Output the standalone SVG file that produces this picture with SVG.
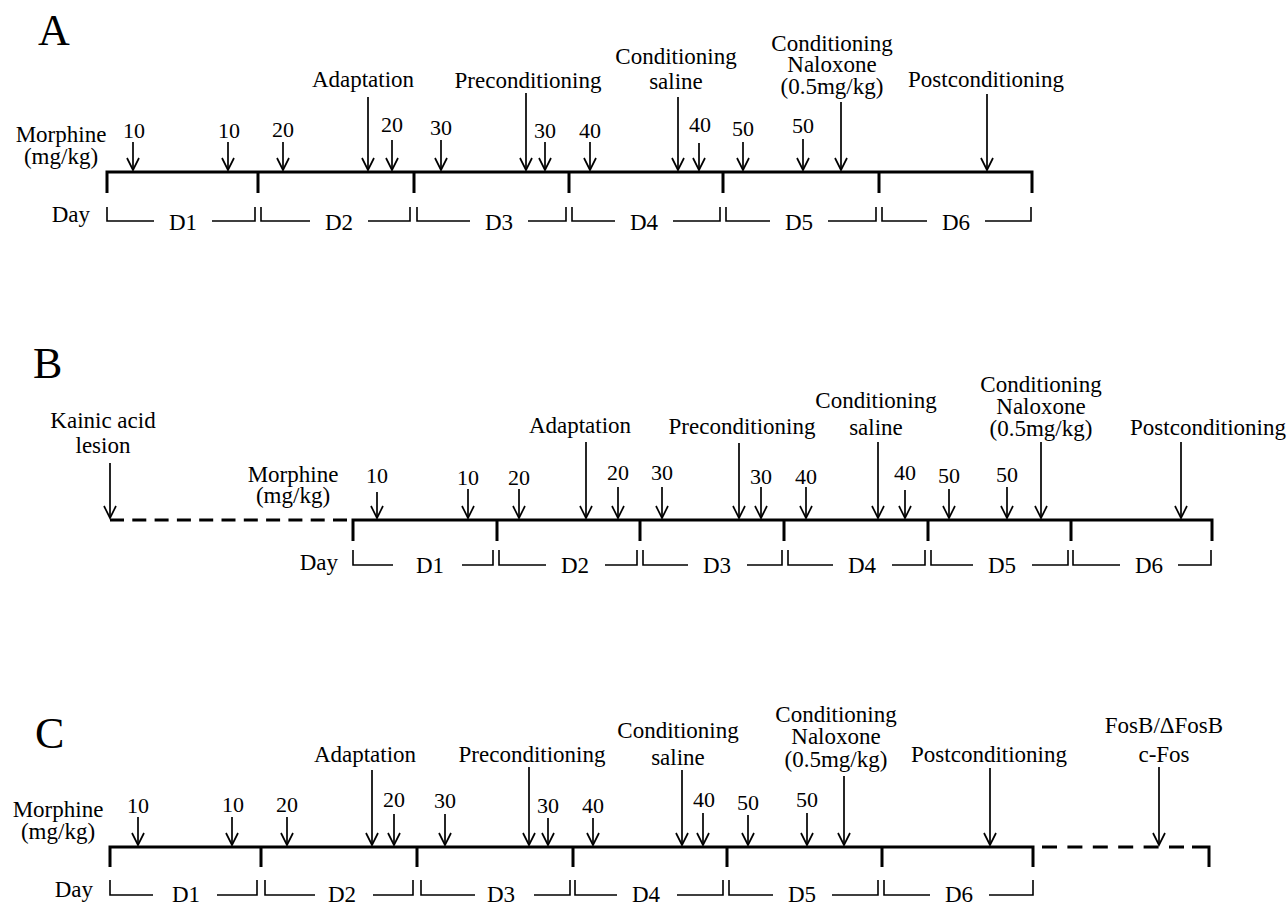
<svg xmlns="http://www.w3.org/2000/svg" width="1288" height="903" viewBox="0 0 1288 903">
<style>
text{font-family:"Liberation Serif","Times New Roman",serif;font-size:23px;fill:#000;text-anchor:middle}
.n{font-size:22px}
.L{font-size:44px;text-anchor:start}
.e{text-anchor:end}
.axis{stroke:#000;stroke-width:3;fill:none}
.dash{stroke:#000;stroke-width:3;fill:none}
.br{stroke:#000;stroke-width:1.6;fill:none}
.arr{stroke:#000;stroke-width:1.7;fill:none;marker-end:url(#ah)}
</style>
<defs>
<marker id="ah" markerUnits="userSpaceOnUse" markerWidth="16" markerHeight="16" viewBox="-14 -8 16 16" refX="0" refY="0" orient="auto" overflow="visible">
<path d="M-12,-6 L0,0 L-12,6" fill="none" stroke="#000" stroke-width="1.7"/>
</marker>
</defs>
<rect width="1288" height="903" fill="#fff"/>

<!-- Panel A -->
<g id="panelA">
<text class="L" x="38" y="45">A</text>
<g id="A-axis">
<path class="axis" d="M107,193V172H1032V193M258,172V193M414,172V193M569,172V193M723,172V193M879,172V193"/>
<text x="61" y="142">Morphine</text>
<text x="61" y="164">(mg/kg)</text>
<text class="e" x="90" y="222">Day</text>
</g>
<g id="A-days">
<path class="br" d="M107,207V221H154M212,221H255V207M261,207V221H310M368,221H410V207M417,207V221H470M528,221H566V207M572,207V221H615M673,221H720V207M726,207V221H770M828,221H876V207M882,207V221H927M985,221H1031V207"/>
<text x="183" y="230">D1</text><text x="339" y="230">D2</text><text x="499" y="230">D3</text>
<text x="644" y="230">D4</text><text x="799" y="230">D5</text><text x="956" y="230">D6</text>
</g>
<g id="A-doses">
<path class="arr" d="M133,142V170"/><text class="n" x="134" y="138">10</text>
<path class="arr" d="M228,142V170"/><text class="n" x="229" y="138">10</text>
<path class="arr" d="M283,142V170"/><text class="n" x="283" y="137">20</text>
<path class="arr" d="M392,140V170"/><text class="n" x="392" y="132">20</text>
<path class="arr" d="M441,140V170"/><text class="n" x="441" y="135">30</text>
<path class="arr" d="M545,142V170"/><text class="n" x="545" y="138">30</text>
<path class="arr" d="M590,142V170"/><text class="n" x="590" y="138">40</text>
<path class="arr" d="M699,143V170"/><text class="n" x="700" y="132">40</text>
<path class="arr" d="M743,142V170"/><text class="n" x="743" y="136">50</text>
<path class="arr" d="M803,139V170"/><text class="n" x="803" y="133">50</text>
</g>
<g id="A-adaptation"><path class="arr" d="M368,97V170"/><text x="363" y="87">Adaptation</text></g>
<g id="A-precond"><path class="arr" d="M526,93V170"/><text x="528" y="88">Preconditioning</text></g>
<g id="A-condsal"><path class="arr" d="M678,97V170"/><text x="676" y="64">Conditioning</text><text x="676" y="89">saline</text></g>
<g id="A-condnal"><path class="arr" d="M841,102V170"/><text x="832" y="51">Conditioning</text><text x="832" y="72">Naloxone</text><text x="832" y="94">(0.5mg/kg)</text></g>
<g id="A-postcond"><path class="arr" d="M987,94V170"/><text x="986" y="87">Postconditioning</text></g>
</g>

<!-- Panel B -->
<g id="panelB">
<text class="L" x="33" y="378">B</text>
<g id="B-axis">
<path class="dash" stroke-dasharray="14 8.3" d="M110,520H347"/>
<path class="axis" d="M353,541V520H1212V541M497,520V541M640,520V541M784,520V541M928,520V541M1071,520V541"/>
<text x="293" y="482">Morphine</text>
<text x="293" y="503">(mg/kg)</text>
<text class="e" x="338" y="570">Day</text>
</g>
<g id="B-days">
<path class="br" d="M353,550V565H393M462,565H493V550M499,550V565H546M605,565H637V550M643,550V565H688M747,565H782V550M788,550V565H833M892,565H925V550M931,550V565H973M1032,565H1068V550M1073,550V565H1120M1178,565H1211V550"/>
<text x="430" y="573">D1</text><text x="575" y="573">D2</text><text x="717" y="573">D3</text>
<text x="862" y="573">D4</text><text x="1002" y="573">D5</text><text x="1149" y="573">D6</text>
</g>
<g id="B-kainic"><path class="arr" d="M110,463V518"/><text x="103" y="428">Kainic acid</text><text x="103" y="453">lesion</text></g>
<g id="B-doses">
<path class="arr" d="M377,492V518"/><text class="n" x="377" y="483">10</text>
<path class="arr" d="M468,489V518"/><text class="n" x="468" y="485">10</text>
<path class="arr" d="M519,489V518"/><text class="n" x="519" y="485">20</text>
<path class="arr" d="M618,487V518"/><text class="n" x="618" y="480">20</text>
<path class="arr" d="M662,487V518"/><text class="n" x="662" y="480">30</text>
<path class="arr" d="M761,487V518"/><text class="n" x="761" y="484">30</text>
<path class="arr" d="M806,487V518"/><text class="n" x="806" y="484">40</text>
<path class="arr" d="M905,490V518"/><text class="n" x="905" y="480">40</text>
<path class="arr" d="M949,489V518"/><text class="n" x="949" y="483">50</text>
<path class="arr" d="M1007,487V518"/><text class="n" x="1007" y="482">50</text>
</g>
<g id="B-adaptation"><path class="arr" d="M586,442V518"/><text x="580" y="433">Adaptation</text></g>
<g id="B-precond"><path class="arr" d="M739,443V518"/><text x="742" y="434">Preconditioning</text></g>
<g id="B-condsal"><path class="arr" d="M878,442V518"/><text x="876" y="408">Conditioning</text><text x="876" y="435">saline</text></g>
<g id="B-condnal"><path class="arr" d="M1041,442V518"/><text x="1041" y="392">Conditioning</text><text x="1041" y="414">Naloxone</text><text x="1041" y="436">(0.5mg/kg)</text></g>
<g id="B-postcond"><path class="arr" d="M1181,442V518"/><text x="1208" y="435">Postconditioning</text></g>
</g>

<!-- Panel C -->
<g id="panelC">
<text class="L" x="35" y="748">C</text>
<g id="C-axis">
<path class="axis" d="M110,867V847H1033V867M261,847V867M417,847V867M573,847V867M727,847V867M882,847V867"/>
<path class="dash" stroke-dasharray="15 10.4" d="M1042,847H1192"/>
<path class="axis" d="M1192,847H1209V867"/>
<text x="58" y="817">Morphine</text>
<text x="58" y="839">(mg/kg)</text>
<text class="e" x="93" y="897">Day</text>
</g>
<g id="C-days">
<path class="br" d="M110,880V895H153M217,895H257V880M265,880V895H315M373,895H413V880M421,880V895H475M534,895H570V880M575,880V895H617M677,895H723V880M729,880V895H773M832,895H878V880M884,880V895H930M989,895H1033V880"/>
<text x="186" y="902">D1</text><text x="342" y="902">D2</text><text x="501" y="902">D3</text>
<text x="646" y="902">D4</text><text x="802" y="902">D5</text><text x="959" y="902">D6</text>
</g>
<g id="C-doses">
<path class="arr" d="M138,817V845"/><text class="n" x="138" y="813">10</text>
<path class="arr" d="M232,817V845"/><text class="n" x="233" y="812">10</text>
<path class="arr" d="M287,817V845"/><text class="n" x="287" y="812">20</text>
<path class="arr" d="M394,814V845"/><text class="n" x="394" y="807">20</text>
<path class="arr" d="M445,814V845"/><text class="n" x="445" y="808">30</text>
<path class="arr" d="M548,818V845"/><text class="n" x="548" y="813">30</text>
<path class="arr" d="M593,818V845"/><text class="n" x="593" y="813">40</text>
<path class="arr" d="M703,813V845"/><text class="n" x="704" y="807">40</text>
<path class="arr" d="M748,815V845"/><text class="n" x="748" y="810">50</text>
<path class="arr" d="M807,813V845"/><text class="n" x="807" y="807">50</text>
</g>
<g id="C-adaptation"><path class="arr" d="M372,770V845"/><text x="365" y="762">Adaptation</text></g>
<g id="C-precond"><path class="arr" d="M529,767V845"/><text x="532" y="762">Preconditioning</text></g>
<g id="C-condsal"><path class="arr" d="M682,770V845"/><text x="678" y="738">Conditioning</text><text x="678" y="765">saline</text></g>
<g id="C-condnal"><path class="arr" d="M844,776V845"/><text x="836" y="722">Conditioning</text><text x="836" y="744">Naloxone</text><text x="836" y="767">(0.5mg/kg)</text></g>
<g id="C-postcond"><path class="arr" d="M990,768V845"/><text x="989" y="762">Postconditioning</text></g>
<g id="C-fos"><path class="arr" d="M1159,767V845"/><text x="1164" y="733">FosB/ΔFosB</text><text x="1164" y="762">c-Fos</text></g>
</g>
</svg>
